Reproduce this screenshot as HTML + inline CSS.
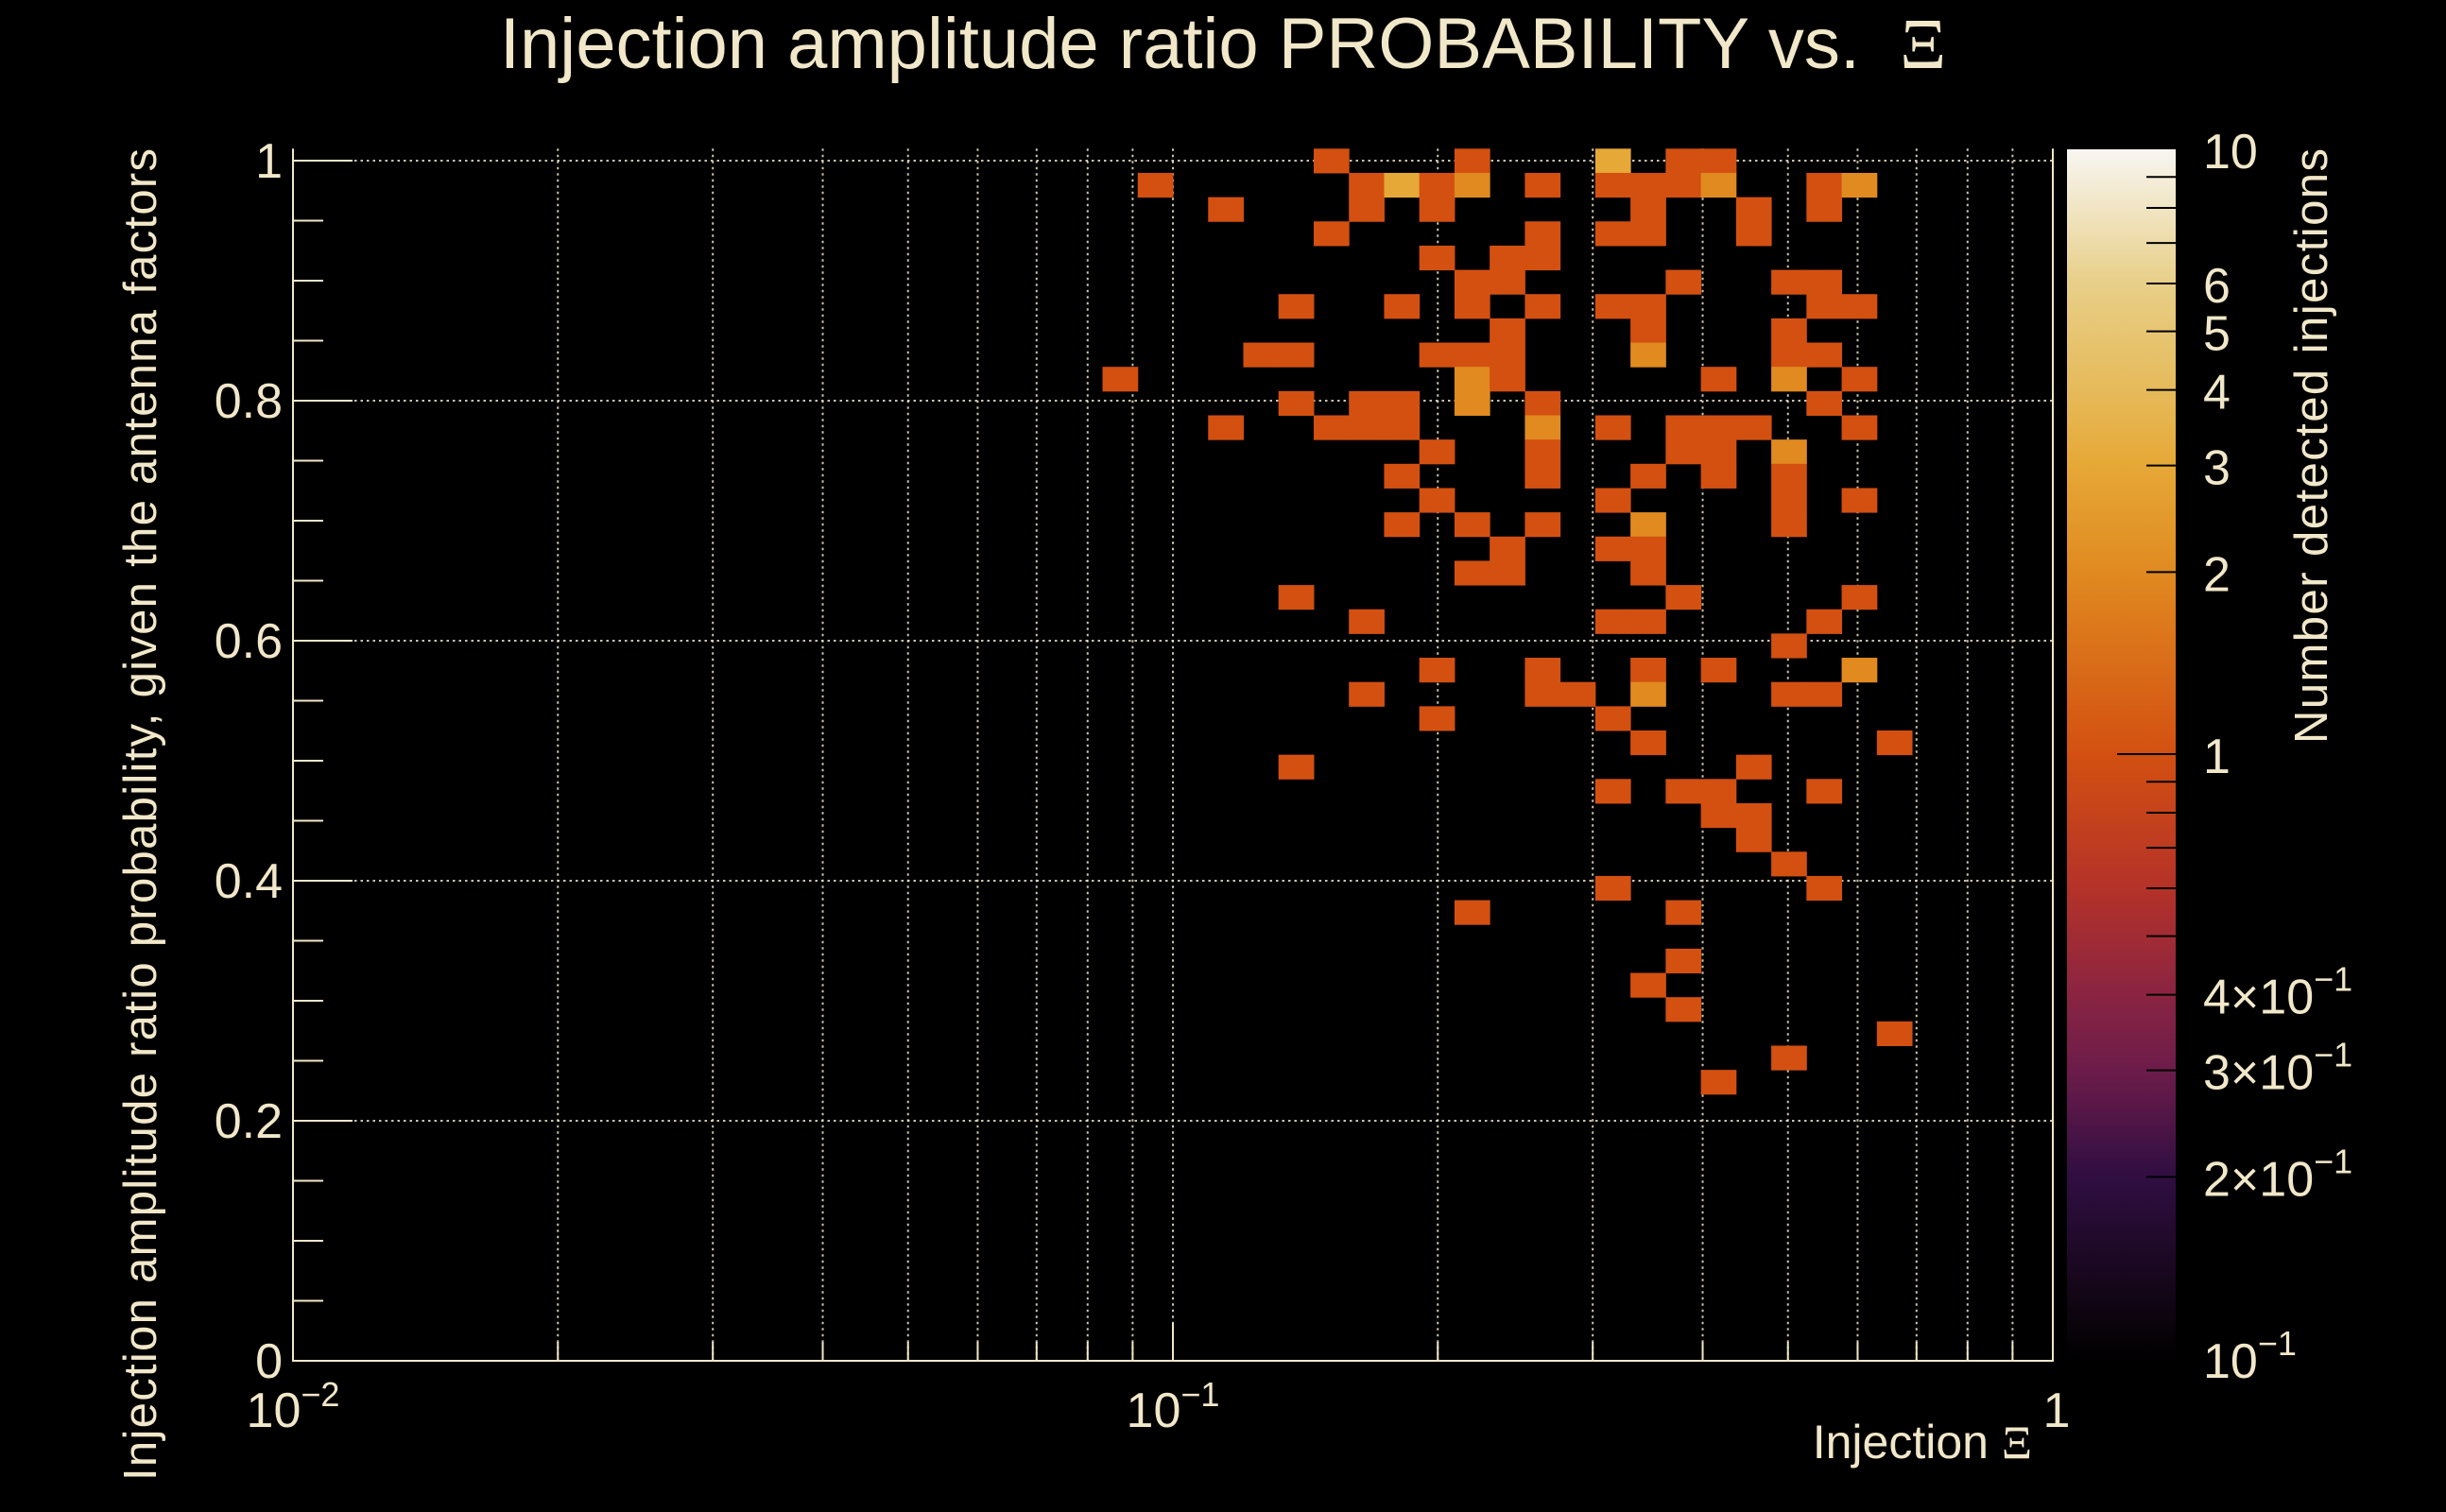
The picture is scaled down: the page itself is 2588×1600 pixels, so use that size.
<!DOCTYPE html>
<html><head><meta charset="utf-8">
<style>
html,body{margin:0;padding:0;background:#000;}
svg{display:block;}
text{font-family:"Liberation Sans",sans-serif;fill:#f1e7c9;}
.sym{font-family:"Liberation Serif",serif;}
</style></head>
<body>
<svg id="chart" width="2588" height="1600" viewBox="0 0 2588 1600" xmlns="http://www.w3.org/2000/svg">
<defs>
<linearGradient id="cbgrad" x1="0" y1="1" x2="0" y2="0"></linearGradient>
</defs>
<rect x="0" y="0" width="2588" height="1600" fill="#000"/>
<g id="grid"></g>
<g id="cells"></g>
<g id="axes"></g>
<g id="colorbar"></g>
<text x="1294" y="72" font-size="76" text-anchor="middle">Injection amplitude ratio PROBABILITY vs.&#160;&#160;<tspan class="sym">Ξ</tspan></text>
<text x="2150" y="1543" font-size="50" text-anchor="end">Injection <tspan class="sym">Ξ</tspan></text>
<text transform="translate(165,157) rotate(-90)" font-size="49" text-anchor="end" textLength="1410">Injection amplitude ratio probability, given the antenna factors</text>
<text transform="translate(2462,157) rotate(-90)" font-size="49" text-anchor="end" textLength="630">Number detected injections</text>
</svg>
<script>
// data: x bin index (50 log bins, 1e-2..1), y bin index (50 bins, 0..1.01), counts
const cellXBin = [29,33,37,39,40, 24,30,31,32,33,35,37,38,39,40,43,44, 26,30,32,38,41,43, 29,35,37,38,41, 32,34,35, 33,34,39,42,43, 28,31,33,35,37,38,43,44, 34,38,42, 27,28,32,33,34,38,42,43, 23,33,34,40,42,44, 28,30,31,33,35,43, 26,29,30,31,35,37,39,40,41,44, 32,35,39,40,42, 31,35,38,40,42, 32,37,42,44, 31,33,35,38,42, 34,37,38, 33,34,38, 28,39,44, 30,37,38,43, 42, 32,35,38,40,44, 30,35,36,38,42,43, 32,37, 38,45, 28,41, 37,39,40,43, 40,41, 41, 42, 37,43, 33,39, 39, 38, 39, 45, 42, 40];
const cellYBin = [49,49,49,49,49, 48,48,48,48,48,48,48,48,48,48,48,48, 47,47,47,47,47,47, 46,46,46,46,46, 45,45,45, 44,44,44,44,44, 43,43,43,43,43,43,43,43, 42,42,42, 41,41,41,41,41,41,41,41, 40,40,40,40,40,40, 39,39,39,39,39,39, 38,38,38,38,38,38,38,38,38,38, 37,37,37,37,37, 36,36,36,36,36, 35,35,35,35, 34,34,34,34,34, 33,33,33, 32,32,32, 31,31,31, 30,30,30,30, 29, 28,28,28,28,28, 27,27,27,27,27,27, 26,26, 25,25, 24,24, 23,23,23,23, 22,22, 21, 20, 19,19, 18,18, 16, 15, 14, 13, 12, 11];
const cellCount = [1,1,3,1,1, 1,1,3,1,2,1,1,1,1,2,1,2, 1,1,1,1,1,1, 1,1,1,1,1, 1,1,1, 1,1,1,1,1, 1,1,1,1,1,1,1,1, 1,1,1, 1,1,1,1,1,2,1,1, 1,2,1,1,2,1, 1,1,1,2,1,1, 1,1,1,1,2,1,1,1,1,1, 1,1,1,1,2, 1,1,1,1,1, 1,1,1,1, 1,1,1,2,1, 1,1,1, 1,1,1, 1,1,1, 1,1,1,1, 1, 1,1,1,1,2, 1,1,1,2,1,1, 1,1, 1,1, 1,1, 1,1,1,1, 1,1, 1, 1, 1,1, 1,1, 1, 1, 1, 1, 1, 1];
const yTickValues = [0,0.2,0.4,0.6,0.8,1];
const yTickLabels = ["0","0.2","0.4","0.6","0.8","1"];
const xDecades = [-2,-1,0];
const zTickValues = [10,6,5,4,3,2,1,0.4,0.3,0.2,0.1];
const zTickLabels = ["10","6","5","4","3","2","1","4×10|−1","3×10|−1","2×10|−1","10|−1"];

const NS="http://www.w3.org/2000/svg";
const PX0=310, PX1=2172, PY0=1440, PY1=157.3;
const XMINL=-2, XMAXL=0, YMIN=0, YMAX=1.01, NXB=50, NYB=50;
const CB_X0=2187, CB_X1=2302, CB_Y0=1438, CB_Y1=158;
function xScale(v){return PX0+(Math.log10(v)-XMINL)/(XMAXL-XMINL)*(PX1-PX0);}
function yScale(v){return PY0-(v-YMIN)/(YMAX-YMIN)*(PY0-PY1);}
function zScale(v){return CB_Y0-(Math.log10(v)+1)/2*(CB_Y0-CB_Y1);}
function el(tag,attrs,parent){const e=document.createElementNS(NS,tag);for(const k in attrs)e.setAttribute(k,attrs[k]);parent.appendChild(e);return e;}
const stops=[[0.1,[0,0,0]],[0.13,[20,6,24]],[0.2,[48,14,66]],[0.3,[108,28,74]],[0.4,[138,36,66]],[0.6,[180,50,40]],[1,[211,80,17]],[2,[224,138,32]],[3,[230,168,54]],[4,[230,186,90]],[6,[232,207,136]],[10,[248,246,242]]];
function zColor(v){const l=Math.log10(v);for(let i=0;i<stops.length-1;i++){const a=Math.log10(stops[i][0]),b=Math.log10(stops[i+1][0]);if(l<=b){const t=Math.max(0,(l-a)/(b-a));const c=stops[i][1].map((c0,k)=>Math.round(c0+(stops[i+1][1][k]-c0)*t));return `rgb(${c[0]},${c[1]},${c[2]})`;}}return "rgb(248,246,242)";}
const grad=document.getElementById('cbgrad');
stops.forEach(s=>{el('stop',{offset:(Math.log10(s[0])+1)/2,'stop-color':`rgb(${s[1][0]},${s[1][1]},${s[1][2]})`},grad);});

const grid=document.getElementById('grid');
const cells=document.getElementById('cells');
const axes=document.getElementById('axes');
const cb=document.getElementById('colorbar');
const GC="#f1e7c9";
for(let d=-2;d<0;d++){for(let m=1;m<=9;m++){if(d===-2&&m===1)continue;const v=m*Math.pow(10,d);const x=xScale(v);
 const g=el('line',{x1:x,x2:x,y1:PY1,y2:PY0,stroke:GC,'stroke-width':2,'stroke-dasharray':'2.5 4','opacity':0.85},grid);
 
 }}
yTickValues.forEach(v=>{if(v===0)return;const y=yScale(v);
 const g=el('line',{x1:PX0,x2:PX1,y1:y,y2:y,stroke:GC,'stroke-width':2,'stroke-dasharray':'2.5 4','opacity':0.85},grid);
 
 });
for(let i=0;i<cellXBin.length;i++){
 const lo=Math.pow(10,XMINL+cellXBin[i]*(XMAXL-XMINL)/NXB), hi=Math.pow(10,XMINL+(cellXBin[i]+1)*(XMAXL-XMINL)/NXB);
 const x0=xScale(lo),x1=xScale(hi);
 const ylo=YMIN+cellYBin[i]*(YMAX-YMIN)/NYB, yhi=YMIN+(cellYBin[i]+1)*(YMAX-YMIN)/NYB;
 const yt=yScale(yhi), yb=yScale(ylo);
 const r=el('rect',{x:x0,y:yt,width:x1-x0+0.5,height:yb-yt+0.5,fill:zColor(cellCount[i])},cells);
 
 }
const f=el('path',{d:`M${PX0} ${PY1} V${PY0} H${PX1} V${PY1}`,fill:'none',stroke:GC,'stroke-width':2},axes);


for(let k=0;k<=20;k++){const v=k*0.05;const y=yScale(v);const major=(k%4===0);
 const t=el('line',{x1:PX0,x2:PX0+(major?63:32),y1:y,y2:y,stroke:GC,'stroke-width':2},axes);
 
 }
yTickValues.forEach((v,i)=>{const t=el('text',{x:299,y:yScale(v)+18,'font-size':52,'text-anchor':'end'},axes);t.textContent=yTickLabels[i];
 
 });
for(let d=-2;d<=0;d++){for(let m=1;m<=9;m++){if(d===0&&m>1)break;const v=m*Math.pow(10,d);const x=xScale(v);const major=(m===1);
 const t=el('line',{x1:x,x2:x,y1:PY0,y2:PY0-(major?40:20),stroke:GC,'stroke-width':2},axes);
 
 }}
xDecades.forEach(d=>{const x=xScale(Math.pow(10,d));const t=el('text',{x:x,y:1510,'font-size':52,'text-anchor':'middle'},axes);
 if(d===0){t.textContent="1";t.setAttribute('x',x+4);}else{t.textContent="10";const s=el('tspan',{dy:-22,'font-size':36},t);s.textContent="−"+(-d);}
 
 });
const cr=el('rect',{x:CB_X0,y:CB_Y1,width:CB_X1-CB_X0,height:CB_Y0-CB_Y1,fill:'url(#cbgrad)'},cb);


for(let d=-1;d<=1;d++){for(let m=1;m<=9;m++){if(d===1&&m>1)break;const v=m*Math.pow(10,d);if(v<=0.1||v>=10)continue;const y=zScale(v);const major=(m===1);
 const t=el('line',{x1:CB_X1,x2:CB_X1-(major?62:31),y1:y,y2:y,stroke:'#000','stroke-width':2},cb);
 
 }}
zTickValues.forEach((v,i)=>{const parts=zTickLabels[i].split('|');const y=zScale(v)+20;
 const t=el('text',{x:2331,y:y,'font-size':52},cb);t.textContent=parts[0];
 if(parts[1]){const s=el('tspan',{dy:-24,'font-size':36},t);s.textContent=parts[1];}
 
 });
</script>
</body></html>
